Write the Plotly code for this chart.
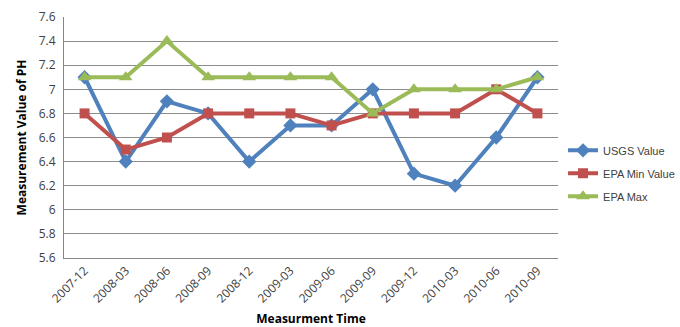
import plotly.graph_objects as go

periods = ["2007-12", "2008-03", "2008-06", "2008-09", "2008-12", "2009-03",
           "2009-06", "2009-09", "2009-12", "2010-03", "2010-06", "2010-09"]
usgs_value = [7.1, 6.4, 6.9, 6.8, 6.4, 6.7, 6.7, 7.0, 6.3, 6.2, 6.6, 7.1]
epa_min = [6.8, 6.5, 6.6, 6.8, 6.8, 6.8, 6.7, 6.8, 6.8, 6.8, 7.0, 6.8]
epa_max = [7.1, 7.1, 7.4, 7.1, 7.1, 7.1, 7.1, 6.8, 7.0, 7.0, 7.0, 7.1]

font_family = "Open Sans, Liberation Sans, sans-serif"
legend_font = "Liberation Sans, Arial, sans-serif"

fig = go.Figure()
fig.add_trace(go.Scatter(
    x=periods, y=usgs_value, name="USGS Value", mode="lines+markers",
    legendgroup="usgs",
    line=dict(color="#4F81BD", width=4),
    marker=dict(symbol="diamond", size=11, color="#4F81BD"),
))
fig.add_trace(go.Scatter(
    x=periods, y=epa_min, name="EPA Min Value", mode="lines+markers",
    legendgroup="epa_min",
    line=dict(color="#C0504D", width=4),
    marker=dict(symbol="square", size=10, color="#C0504D"),
))
fig.add_trace(go.Scatter(
    x=periods, y=epa_max, name="EPA Max", mode="lines+markers",
    legendgroup="epa_max",
    line=dict(color="#9BBB59", width=4),
    marker=dict(symbol="triangle-up", size=12, color="#9BBB59"),
))

fig.update_layout(
    width=680, height=327,
    margin=dict(l=64, r=122, t=17, b=69),
    paper_bgcolor="white", plot_bgcolor="white",
    font=dict(family=font_family, size=12, color="#404040"),
    showlegend=True,
    legend=dict(xref="container", yref="container",
                x=0.828, y=0.47, xanchor="left", yanchor="middle",
                font=dict(family=legend_font, size=11, color="#404040"),
                tracegroupgap=4, itemwidth=30),
    xaxis=dict(
        type="category", range=[-0.5, 11.5], tickangle=-45, showgrid=False,
        automargin=False,
        showline=True, linecolor="#868686", linewidth=1,
        ticks="", tickfont=dict(size=12, color="#404040"),
        title=dict(text="<b>Measurment Time</b>", font=dict(size=12, color="#000000"),
                   standoff=10),
    ),
    yaxis=dict(
        range=[5.6, 7.6], dtick=0.2, tickformat="~g",
        automargin=False, ticklabelstandoff=5,
        showgrid=True, gridcolor="#8C8C8C", gridwidth=1,
        showline=True, linecolor="#868686", linewidth=1,
        zeroline=False, ticks="", tickfont=dict(size=12, color="#404040"),
        title=dict(text="<b>Measurement Value of PH</b>", font=dict(size=12, color="#000000"),
                   standoff=9),
    ),
)

fig.write_html("out.html")
